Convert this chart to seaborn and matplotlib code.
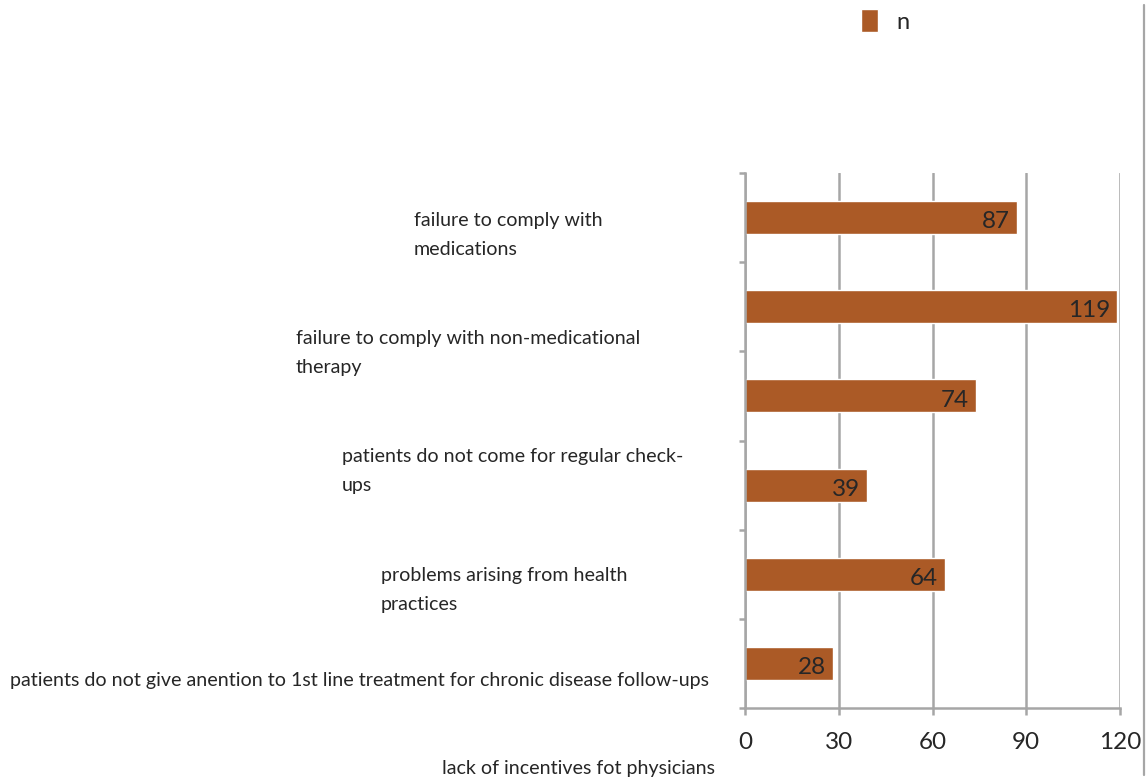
"""Barriers chart: horizontal bars with Excel-style offset labels."""

import matplotlib.pyplot as plt
import matplotlib.transforms as mtransforms
from matplotlib.lines import Line2D
import numpy as np
import pandas as pd
import seaborn as sns

# data
categories = [
    "failure to comply with\nmedications",
    "failure to comply with non-medicational\ntherapy",
    "patients do not come for regular check-\nups",
    "problems arising from health\npractices",
    "patients do not give anention to 1st line treatment for chronic disease follow-ups",
    "lack of incentives fot physicians",
]
values = [87, 119, 74, 39, 64, 28]
x_ticks = [0, 30, 60, 90, 120]
series_name = "n"

# label layout (x in pixels of the figure, y in data units, alignment)
label_x = [414, 296, 342, 381, 10, 715]
label_y = [0.195, 1.518, 2.84, 4.175, 5.195, 6.18]
label_ha = ["left", "left", "left", "left", "left", "right"]

BAR = "#AB5A26"
GRID = "#A6A6A6"
TXT = "#262626"

sns.set_style("white")
plt.rcParams["font.family"] = ["Lato", "DejaVu Sans"]

df = pd.DataFrame({"cat": categories, "n": values})

fig = plt.figure(figsize=(11.46, 7.82), dpi=100)
ax = fig.add_axes([745 / 1146, 1 - 708 / 782, 375 / 1146, 535 / 782])

sns.barplot(data=df, y="cat", x="n", orient="h", color=BAR, saturation=1,
            width=0.37, edgecolor="white", linewidth=1, label=series_name, ax=ax)

ax.set_xlim(0, 120)
ax.set_ylim(len(categories) - 0.5, -0.5)
ax.set_xticks(x_ticks)
ax.set_xticklabels([str(t) for t in x_ticks], fontsize=17.5, color=TXT)
ax.set_yticks(np.arange(-0.5, len(categories)))
ax.set_yticklabels([])
ax.set_xlabel("")
ax.set_ylabel("")

ax.grid(axis="x", color=GRID, linewidth=1.8)
ax.set_axisbelow(True)
for side in ["top", "right"]:
    ax.spines[side].set_visible(False)
for side in ["left", "bottom"]:
    ax.spines[side].set_color(GRID)
    ax.spines[side].set_linewidth(1.8)
ax.tick_params(axis="x", bottom=True, length=5, width=1.8, color=GRID, pad=12,
               direction="out")
ax.tick_params(axis="y", left=True, length=4, width=1.8, color=GRID,
               direction="out")

# value labels inside bar ends
for i, v in enumerate(values):
    ax.annotate(str(v), xy=(v, i), xytext=(-5, -3), textcoords="offset points",
                ha="right", va="center", fontsize=17.5, color=TXT)

# category labels, placed like the original
trans = mtransforms.blended_transform_factory(fig.transFigure, ax.transData)
for lab, x, y, ha in zip(categories, label_x, label_y, label_ha):
    ax.text(x / 1146, y, lab, transform=trans, ha=ha, va="center",
            fontsize=14.1, color=TXT, linespacing=1.82, clip_on=False)

if ax.get_legend() is not None:
    ax.get_legend().remove()
handles, labels = ax.get_legend_handles_labels()
fig.legend(handles, labels, loc="center left",
           bbox_to_anchor=(840 / 1146, 1 - 21 / 782),
           frameon=False, fontsize=17, handlelength=0.7, handleheight=1.1,
           handletextpad=0.8, labelcolor=TXT)

# right edge border
fig.add_artist(Line2D([1144 / 1146, 1144 / 1146], [1 - 5 / 782, 1 - 775 / 782],
                      transform=fig.transFigure, color=GRID, linewidth=1.6))

plt.savefig("out.png", dpi=100)
plt.close()
